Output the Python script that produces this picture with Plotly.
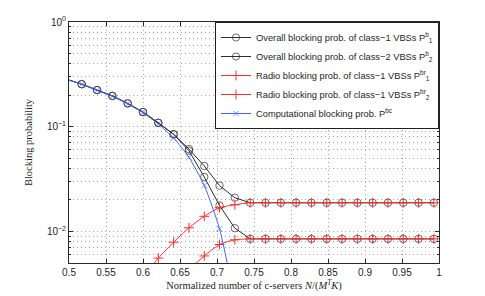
import plotly.graph_objects as go

# ---- data ----
x_vals = [0.5, 0.5172, 0.5379, 0.5586, 0.5793, 0.6, 0.6207, 0.6414, 0.6621,
          0.6828, 0.7034, 0.7241, 0.7448, 0.7655, 0.7862, 0.8069, 0.8276,
          0.8483, 0.8690, 0.8897, 0.9103, 0.9310, 0.9517, 0.9724, 0.9931]

overall_class1 = [0.279, 0.255, 0.224, 0.197, 0.167, 0.138, 0.109, 0.0848,
                  0.0612, 0.0422, 0.0274, 0.0210] + [0.0188] * 13
overall_class2 = [0.279, 0.255, 0.224, 0.197, 0.167, 0.138, 0.109, 0.0845,
                  0.059, 0.0331, 0.0177, 0.01075] + [0.0085] * 13

radio_x1 = x_vals[5:]
radio_class1 = [0.0036, 0.00557, 0.0079, 0.01084, 0.01395, 0.01687,
                0.0180] + [0.0188] * 13
radio_x2 = x_vals[8:]
radio_class2 = [0.0043, 0.00584, 0.00751, 0.00832] + [0.0085] * 13

comp_x = x_vals[:12]
comp_block = [0.279, 0.254, 0.222, 0.195, 0.165, 0.136, 0.106, 0.078, 0.051,
              0.0275, 0.0106, 0.0022]

names = [
    "Overall blocking prob. of class\u22121 VBSs P<sup>b</sup><sub>1</sub>",
    "Overall blocking prob. of class\u22122 VBSs P<sup>b</sup><sub>2</sub>",
    "Radio blocking prob. of class\u22121 VBSs P<sup>br</sup><sub>1</sub>",
    "Radio blocking prob. of class\u22121 VBSs P<sup>br</sup><sub>2</sub>",
    "Computational blocking prob. P<sup>bc</sup>",
]

x_ticks = [0.5, 0.55, 0.6, 0.65, 0.7, 0.75, 0.8, 0.85, 0.9, 0.95, 1]
x_ticktext = ["0.5", "0.55", "0.6", "0.65", "0.7", "0.75", "0.8", "0.85",
              "0.9", "0.95", "1"]
y_ticks = [0.01, 0.1, 1]
y_ticktext = ["10<sup>\u22122</sup>", "10<sup>\u22121</sup>", "10<sup>0</sup>"]

BLACK = "rgb(45,45,45)"
RED = "rgb(255,45,45)"
BLUE = "rgb(70,100,255)"


def sizes(n, s, skip_first):
    return [0 if (skip_first and i == 0) else s for i in range(n)]


fig = go.Figure()
fig.add_trace(go.Scatter(
    x=x_vals, y=overall_class1, name=names[0], mode="lines+markers",
    line=dict(color=BLACK, width=1),
    marker=dict(symbol="circle-open", size=sizes(len(x_vals), 7.5, True),
                color=BLACK, line=dict(width=1)),
    legendgroup="a"))
fig.add_trace(go.Scatter(
    x=x_vals, y=overall_class2, name=names[1], mode="lines+markers",
    line=dict(color=BLACK, width=1),
    marker=dict(symbol="circle-open", size=sizes(len(x_vals), 7.5, True),
                color=BLACK, line=dict(width=1)),
    legendgroup="b"))
fig.add_trace(go.Scatter(
    x=radio_x1, y=radio_class1, name=names[2], mode="lines+markers",
    line=dict(color=RED, width=1, shape="spline", smoothing=0.6),
    marker=dict(symbol="cross-thin-open", size=7, color=RED,
                line=dict(width=1, color=RED)),
    legendgroup="c"))
fig.add_trace(go.Scatter(
    x=radio_x2, y=radio_class2, name=names[3], mode="lines+markers",
    line=dict(color=RED, width=1, shape="spline", smoothing=0.6),
    marker=dict(symbol="cross-thin-open", size=7, color=RED,
                line=dict(width=1, color=RED)),
    legendgroup="d"))
fig.add_trace(go.Scatter(
    x=comp_x, y=comp_block, name=names[4], mode="lines+markers",
    line=dict(color=BLUE, width=1, shape="spline", smoothing=0.6),
    marker=dict(symbol="x-thin-open", size=sizes(len(comp_x), 6, True),
                color=BLUE, line=dict(width=1, color=BLUE)),
    legendgroup="e"))

grid_col = "rgb(165,165,165)"
grid_dash = "1px,3px"
minor_vals = [v * m for m in (0.001, 0.01, 0.1) for v in range(2, 10)]

fig.update_layout(
    width=485, height=296,
    margin=dict(l=69, r=46, t=22, b=33),
    paper_bgcolor="white", plot_bgcolor="white",
    font=dict(family="Liberation Sans, Arial, sans-serif", size=10,
              color="rgb(30,30,30)"),
    showlegend=True,
    legend=dict(x=1, xanchor="right", y=1, yanchor="top",
                bgcolor="white", bordercolor="rgb(30,30,30)", borderwidth=1,
                font=dict(size=9.3), tracegroupgap=0, itemwidth=30),
    xaxis=dict(range=[0.5, 1], tickvals=x_ticks, ticktext=x_ticktext,
               automargin=False,
               showline=True, linecolor="rgb(40,40,40)", linewidth=1,
               mirror="ticks", ticks="inside", ticklen=4,
               tickcolor="rgb(40,40,40)",
               showgrid=True, gridcolor=grid_col, griddash=grid_dash,
               gridwidth=1, zeroline=False,
               title=dict(text="Normalized number of c-servers <i>N</i>/(<i>M</i><sup><i>T</i></sup><i>K</i>)",
                          font=dict(family="Liberation Serif, Times New Roman, serif",
                                    size=10.5),
                          standoff=4)),
    yaxis=dict(type="log", range=[-2.301, 0], tickvals=y_ticks,
               ticktext=y_ticktext, automargin=False,
               showline=True, linecolor="rgb(40,40,40)", linewidth=1,
               mirror="ticks", ticks="inside", ticklen=4,
               tickcolor="rgb(40,40,40)",
               showgrid=True, gridcolor=grid_col, griddash=grid_dash,
               gridwidth=1, zeroline=False,
               minor=dict(tickvals=minor_vals, ticks="inside", ticklen=2,
                          tickcolor="rgb(40,40,40)", showgrid=True,
                          gridcolor=grid_col, griddash=grid_dash, gridwidth=1),
               title=dict(text="Blocking probability",
                          font=dict(family="Liberation Serif, Times New Roman, serif",
                                    size=10.5),
                          standoff=12)),
)

fig.write_html("out.html",
               config={"displayModeBar": False},
               post_script="document.body.style.margin='0px';"
                           "document.body.style.overflow='hidden';")
